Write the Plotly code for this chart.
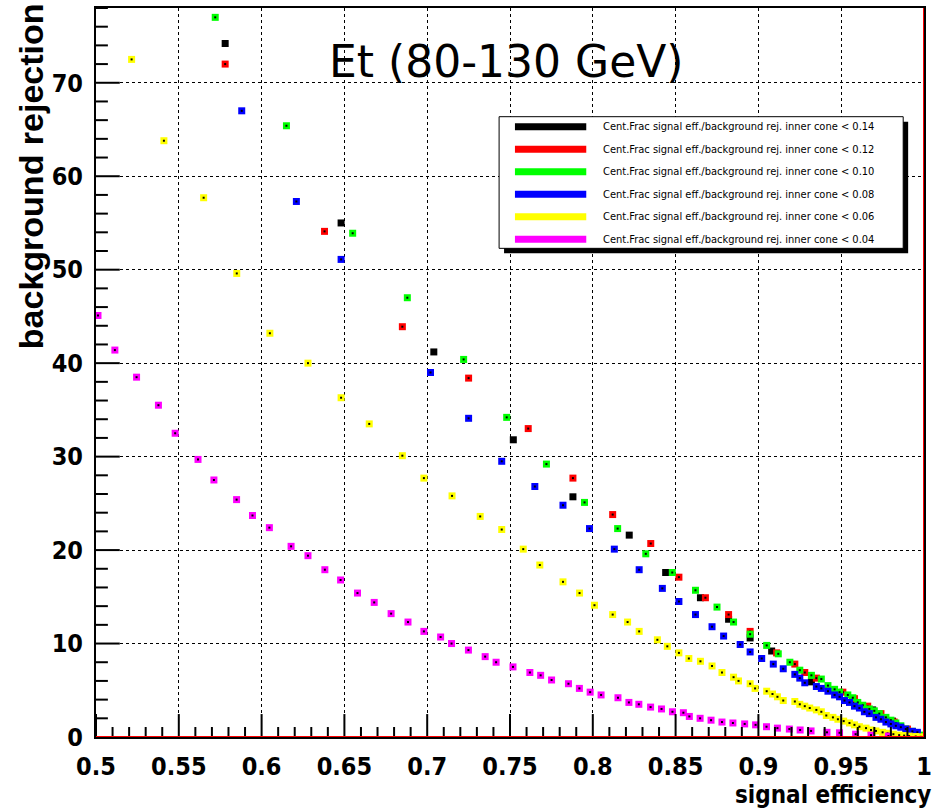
import plotly.graph_objects as go

# Signal efficiency / background rejection for several inner-cone cuts
labels = [
    "Cent.Frac signal eff./background rej. inner cone < 0.14",
    "Cent.Frac signal eff./background rej. inner cone < 0.12",
    "Cent.Frac signal eff./background rej. inner cone < 0.10",
    "Cent.Frac signal eff./background rej. inner cone < 0.08",
    "Cent.Frac signal eff./background rej. inner cone < 0.06",
    "Cent.Frac signal eff./background rej. inner cone < 0.04",
]
colors = ["#000000", "#ff0000", "#00ff00", "#0000ff", "#ffff00", "#ff00ff"]

eff_014 = [0.578, 0.648, 0.704, 0.752, 0.788, 0.822, 0.844, 0.865, 0.882, 0.895,
           0.908, 0.932, 0.957, 0.969, 0.981, 0.993]
rej_014 = [74.2, 55.0, 41.2, 31.8, 25.7, 21.6, 17.6, 14.9, 12.6, 10.6,
           9.2, 5.9, 3.9, 2.9, 1.7, 0.6]

eff_012 = [0.578, 0.638, 0.685, 0.725, 0.761, 0.788, 0.812, 0.835, 0.852, 0.868,
           0.882, 0.895, 0.911, 0.922, 0.928, 0.935, 0.951, 0.958, 0.966, 0.974,
           0.982, 0.990, 0.998]
rej_012 = [72.0, 54.1, 43.9, 38.4, 33.0, 27.7, 23.8, 20.7, 17.1, 14.9,
           13.1, 11.3, 9.0, 7.8, 6.9, 6.3, 4.8, 4.1, 3.3, 2.5,
           1.6, 0.85, 0.1]

eff_010 = [0.572, 0.615, 0.655, 0.688, 0.722, 0.748, 0.772, 0.795, 0.815, 0.832,
           0.848, 0.862, 0.875, 0.885, 0.895, 0.905, 0.912, 0.919, 0.925, 0.932,
           0.938, 0.942, 0.946, 0.949, 0.954, 0.957, 0.960, 0.963, 0.967, 0.970,
           0.973, 0.977, 0.980, 0.983, 0.986, 0.989, 0.993, 0.996, 0.999]
rej_010 = [77.0, 65.4, 53.9, 47.0, 40.4, 34.2, 29.2, 25.1, 22.3, 19.6,
           17.6, 15.7, 13.9, 12.3, 11.0, 9.8, 8.9, 8.0, 7.15, 6.6,
           6.2, 5.5, 5.1, 4.8, 4.5, 4.2, 3.7, 3.4, 3.0, 2.8,
           2.5, 2.1, 1.8, 1.5, 1.2, 0.85, 0.6, 0.4, 0.2]

eff_008 = [0.588, 0.621, 0.648, 0.702, 0.725, 0.745, 0.765, 0.782, 0.798, 0.813,
           0.828, 0.842, 0.852, 0.862, 0.872, 0.879, 0.889, 0.895, 0.902, 0.909,
           0.915, 0.922, 0.925, 0.928, 0.935, 0.938, 0.942, 0.946, 0.949, 0.952,
           0.955, 0.958, 0.961, 0.964, 0.967, 0.971, 0.974, 0.977, 0.980, 0.983,
           0.986, 0.989, 0.993, 0.996]
rej_008 = [67.0, 57.3, 51.1, 39.0, 34.1, 29.5, 26.8, 24.8, 22.3, 20.1,
           17.9, 15.9, 14.5, 13.1, 11.8, 10.8, 9.9, 9.1, 8.4, 7.8,
           7.3, 6.7, 6.3, 5.8, 5.4, 5.2, 4.9, 4.5, 4.3, 3.9,
           3.7, 3.3, 3.1, 2.7, 2.5, 2.1, 1.9, 1.6, 1.4, 1.2,
           1.05, 0.85, 0.6, 0.5]

eff_006 = [0.5215, 0.541, 0.565, 0.585, 0.605, 0.628, 0.648, 0.665, 0.685, 0.698,
           0.715, 0.732, 0.745, 0.758, 0.768, 0.782, 0.792, 0.801, 0.812, 0.821,
           0.828, 0.839, 0.845, 0.852, 0.858, 0.865, 0.872, 0.878, 0.885, 0.888,
           0.895, 0.898, 0.905, 0.9085, 0.9115, 0.915, 0.922, 0.925, 0.928, 0.931,
           0.935, 0.938, 0.941, 0.945, 0.948, 0.9515, 0.955, 0.958, 0.961, 0.965,
           0.968, 0.971, 0.975, 0.978, 0.9815, 0.985, 0.988, 0.991, 0.995, 0.998]
rej_006 = [72.5, 63.8, 57.7, 49.6, 43.2, 40.0, 36.3, 33.5, 30.1, 27.7,
           25.8, 23.6, 22.2, 20.1, 18.4, 16.6, 15.4, 14.1, 13.1, 12.3,
           11.3, 10.4, 9.7, 9.0, 8.4, 8.1, 7.6, 6.9, 6.4, 6.0,
           5.7, 5.2, 4.9, 4.6, 4.3, 3.9, 3.8, 3.5, 3.3, 3.1,
           2.9, 2.7, 2.3, 2.1, 1.9, 1.7, 1.5, 1.3, 1.1, 0.95,
           0.75, 0.65, 0.5, 0.4, 0.3, 0.2, 0.15, 0.1, 0.05, 0.02]

eff_004 = [0.5012, 0.5114, 0.5245, 0.5377, 0.5478, 0.5616, 0.5712, 0.5849, 0.5945, 0.6047,
           0.6178, 0.628, 0.6382, 0.6477, 0.6579, 0.668, 0.6782, 0.6884, 0.698, 0.7081,
           0.7147, 0.7249, 0.735, 0.7416, 0.7518, 0.762, 0.7685, 0.7751, 0.7853, 0.7919,
           0.7984, 0.805, 0.8152, 0.8218, 0.8278, 0.8349, 0.8415, 0.8481, 0.8547, 0.8583,
           0.8648, 0.8714, 0.878, 0.8846, 0.8917, 0.8983, 0.9049, 0.9115, 0.9187, 0.9252,
           0.9318, 0.9414, 0.949, 0.9587, 0.968, 0.9785]
rej_004 = [45.1, 41.4, 38.5, 35.5, 32.5, 29.7, 27.5, 25.4, 23.7, 22.4,
           20.4, 19.4, 17.9, 16.8, 15.4, 14.4, 13.2, 12.3, 11.3, 10.7,
           10.0, 9.3, 8.6, 8.0, 7.5, 6.9, 6.6, 6.1, 5.7, 5.2,
           4.8, 4.5, 4.2, 3.7, 3.5, 3.2, 3.0, 2.7, 2.6, 2.2,
           2.0, 1.8, 1.6, 1.5, 1.4, 1.3, 1.1, 0.95, 0.85, 0.75,
           0.65, 0.5, 0.45, 0.3, 0.2, 0.1]

series = [(eff_014, rej_014), (eff_012, rej_012), (eff_010, rej_010),
          (eff_008, rej_008), (eff_006, rej_006), (eff_004, rej_004)]

x_tickvals = [0.5, 0.55, 0.6, 0.65, 0.7, 0.75, 0.8, 0.85, 0.9, 0.95, 1.0]
x_ticktext = ["0.5", "0.55", "0.6", "0.65", "0.7", "0.75", "0.8", "0.85", "0.9", "0.95", "1"]
y_tickvals = [0, 10, 20, 30, 40, 50, 60, 70]
y_ticktext = ["0", "10", "20", "30", "40", "50", "60", "70"]

title_text = "Et (80-130 GeV)"
x_title = "signal efficiency"
y_title = "background rejection"

NARROW = "Liberation Sans Narrow, DejaVu Sans Condensed, Arial Narrow, sans-serif"
BOLD_SANS = "Liberation Sans, Arial, sans-serif"

fig = go.Figure()

for (eff, rej), col, name in zip(series, colors, labels):
    # filled square markers
    fig.add_trace(go.Scatter(
        x=eff, y=rej, mode="markers", name=name, showlegend=False,
        marker=dict(symbol="square", size=7, color=col, line=dict(width=0)),
        hoverinfo="x+y",
    ))
    # small dark centre dot of each marker
    fig.add_trace(go.Scatter(
        x=eff, y=rej, mode="markers", showlegend=False, hoverinfo="skip",
        marker=dict(symbol="square", size=2, color="#000000", line=dict(width=0)),
    ))

# plot area in pixels
W, H = 938, 811
L, R, T, B = 96, 6, 6, 74
pw, ph = W - L - R, H - T - B


def px_x(p):
    return (p - L) / pw


def px_y(p):
    return (H - B - p) / ph


shapes = []
annotations = []

# inside tick marks: long at labelled values, short at the subdivisions
X_MAJOR_LEN, X_MINOR_LEN = 23, 10
Y_MAJOR_LEN, Y_MINOR_LEN = 24, 12
tick_line = dict(color="#000000", width=2)
for k in range(51):
    xv = 0.5 + k * 0.01
    ln = X_MAJOR_LEN if k % 5 == 0 else X_MINOR_LEN
    shapes.append(dict(type="line", xref="x", yref="paper", x0=xv, x1=xv,
                       y0=0, y1=ln / ph, line=tick_line, layer="above"))
for k in range(40):
    yv = k * 2
    ln = Y_MAJOR_LEN if k % 5 == 0 else Y_MINOR_LEN
    shapes.append(dict(type="line", xref="paper", yref="y", x0=0, x1=ln / pw,
                       y0=yv, y1=yv, line=tick_line, layer="above"))

# red frame edges along y=0 and x=1
shapes.append(dict(type="line", xref="x", yref="y", x0=0.5, x1=1.0, y0=0, y1=0,
                   line=dict(color="#ff0000", width=2), layer="above"))
shapes.append(dict(type="line", xref="x", yref="y", x0=1.0, x1=1.0, y0=0, y1=78,
                   line=dict(color="#ff0000", width=2), layer="above"))

# legend box with drop shadow
lx0, lx1, ly0, ly1 = 503, 911, 115, 247
shapes.append(dict(type="rect", xref="paper", yref="paper",
                   x0=px_x(lx0 + 5), x1=px_x(lx1 + 5), y0=px_y(ly1 + 5), y1=px_y(ly0 + 5),
                   fillcolor="#000000", line=dict(width=0), layer="above"))
shapes.append(dict(type="rect", xref="paper", yref="paper",
                   x0=px_x(lx0), x1=px_x(lx1), y0=px_y(ly1), y1=px_y(ly0),
                   fillcolor="#ffffff", line=dict(color="#000000", width=1), layer="above"))

row0, row_step = 125, 22.6
for i, (col, name) in enumerate(zip(colors, labels)):
    yy = row0 + i * row_step
    shapes.append(dict(type="line", xref="paper", yref="paper",
                       x0=px_x(519), x1=px_x(591), y0=px_y(yy), y1=px_y(yy),
                       line=dict(color=col, width=7), layer="above"))
    annotations.append(dict(xref="paper", yref="paper", x=px_x(606), y=px_y(yy),
                            xanchor="left", yanchor="middle", showarrow=False,
                            text=name.replace("<", "&lt;"),
                            font=dict(family=NARROW, size=11, color="#000000")))

# title
annotations.append(dict(xref="paper", yref="paper", x=px_x(510), y=px_y(60),
                        xanchor="center", yanchor="middle", showarrow=False,
                        text=title_text,
                        font=dict(family="DejaVu Sans, sans-serif", size=44, color="#000000")))
# axis titles
annotations.append(dict(xref="paper", yref="paper", x=px_x(941), y=px_y(795),
                        xanchor="right", yanchor="middle", showarrow=False,
                        text="<b>" + x_title + "</b>",
                        font=dict(family=NARROW, size=24, color="#000000")))
annotations.append(dict(xref="paper", yref="paper", x=px_x(30), y=px_y(175),
                        xanchor="center", yanchor="middle", showarrow=False,
                        textangle=-90, text="<b>" + y_title + "</b>",
                        font=dict(family=BOLD_SANS, size=34, color="#000000")))

axis_common = dict(
    showline=True, linecolor="#000000", linewidth=2, mirror=True,
    showgrid=True, gridcolor="#000000", gridwidth=1, griddash="dot",
    zeroline=False, tickmode="array", ticks="",
    tickfont=dict(family=NARROW, size=25, color="#000000", weight="bold"),
)

fig.update_layout(
    width=W, height=H,
    margin=dict(l=L, r=R, t=T, b=B),
    paper_bgcolor="#ffffff", plot_bgcolor="#ffffff",
    shapes=shapes, annotations=annotations,
    xaxis=dict(range=[0.5, 1.0], tickvals=x_tickvals, ticktext=x_ticktext,
               ticklabelstandoff=6, **axis_common),
    yaxis=dict(range=[0, 78], tickvals=y_tickvals, ticktext=y_ticktext,
               ticklabelstandoff=6, **axis_common),
    showlegend=False,
)

fig.write_html("out.html")
